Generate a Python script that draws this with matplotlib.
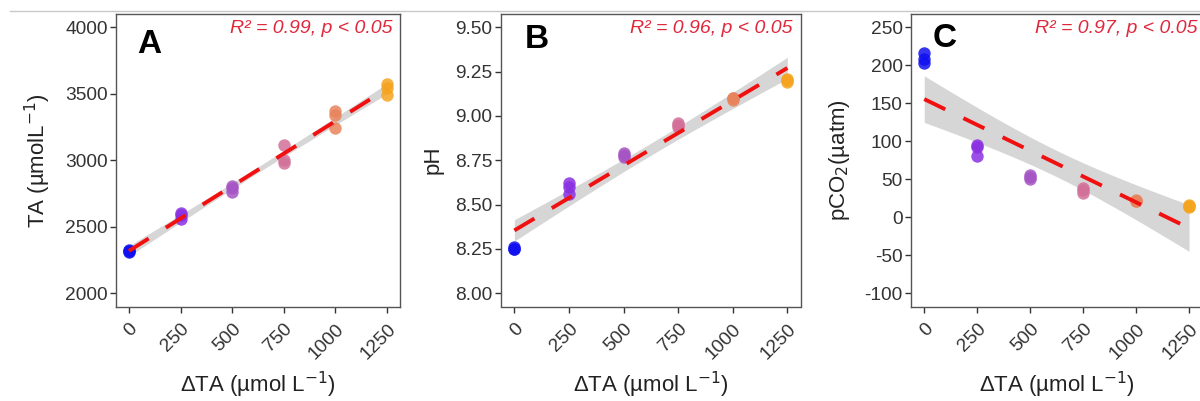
import numpy as np
import matplotlib
matplotlib.use("Agg")
import matplotlib.pyplot as plt
from matplotlib.lines import Line2D

plt.rcParams['font.family'] = ['Liberation Sans', 'DejaVu Sans']

# ---- data ----
dta_levels = [0, 250, 500, 750, 1000, 1250]
level_colors = ['#1010F0', '#8A30E2', '#A655C4', '#D2709A', '#E8845C', '#F5A420']

ta_values = [[2310, 2320, 2325], [2560, 2585, 2600], [2760, 2790, 2805],
             [2980, 3000, 3115], [3240, 3340, 3370], [3490, 3545, 3575]]
ph_values = [[8.25, 8.25, 8.26], [8.56, 8.60, 8.62], [8.77, 8.78, 8.79],
             [8.94, 8.95, 8.96], [9.09, 9.10, 9.10], [9.19, 9.20, 9.21]]
pco2_values = [[203, 208, 216], [80, 92, 95], [50, 53, 56],
               [32, 36, 39], [21, 22, 23], [14, 15, 16]]

x_ticks = [0, 250, 500, 750, 1000, 1250]
ta_ticks = [2000, 2500, 3000, 3500, 4000]
ph_ticks = [8.00, 8.25, 8.50, 8.75, 9.00, 9.25, 9.50]
pco2_ticks = [-100, -50, 0, 50, 100, 150, 200, 250]

stats_text = ["R² = 0.99, p < 0.05", "R² = 0.96, p < 0.05", "R² = 0.97, p < 0.05"]
panel_letters = ["A", "B", "C"]
ylabels = ["TA (µmolL$^{-1}$)", "pH", "pCO$_2$(µatm)"]
xlabel = "ΔTA (µmol L$^{-1}$)"
T_CRIT = 2.1199  # t(0.975, df=16)

W, H = 1200, 401
fig = plt.figure(figsize=(12, 4.01), dpi=100)

def ax_rect(left, right, top, bottom):
    return [left / W, (H - bottom) / H, (right - left) / W, (bottom - top) / H]

axes_px = [(116, 400), (500.7, 801), (911, 1202.3)]
top_px, bot_px = 14, 306.5

panels = [
    dict(vals=ta_values, ticks=ta_ticks, ylim=(1900, 4100), fmt="{:.0f}",
         ylab_x=-0.222, letter_xy=(0.075, 0.867), stat_x=0.975),
    dict(vals=ph_values, ticks=ph_ticks, ylim=(7.925, 9.575), fmt="{:.2f}",
         ylab_x=-0.19, letter_xy=(0.080, 0.884), stat_x=0.973),
    dict(vals=pco2_values, ticks=pco2_ticks, ylim=(-117.5, 267.5), fmt="{:.0f}",
         ylab_x=-0.203, letter_xy=(0.075, 0.887), stat_x=0.985),
]

edge_col = '#555555'
for i, p in enumerate(panels):
    l, r = axes_px[i]
    ax = fig.add_axes(ax_rect(l, r, top_px, bot_px))
    xs = np.repeat(dta_levels, 3).astype(float)
    ys = np.array(p['vals'], dtype=float).ravel()
    # regression + CI
    n = len(xs)
    slope, intercept = np.polyfit(xs, ys, 1)
    resid = ys - (slope * xs + intercept)
    s = np.sqrt(np.sum(resid ** 2) / (n - 2))
    xg = np.linspace(min(dta_levels), max(dta_levels), 100)
    yg = slope * xg + intercept
    se = s * np.sqrt(1 / n + (xg - xs.mean()) ** 2 / np.sum((xs - xs.mean()) ** 2))
    ax.fill_between(xg, yg - T_CRIT * se, yg + T_CRIT * se, color='#999999',
                    alpha=0.4, lw=0, zorder=2)
    # points
    for lev, col, vals in zip(dta_levels, level_colors, p['vals']):
        ax.scatter([lev] * len(vals), vals, s=80, color=col, alpha=0.85,
                   lw=0, zorder=3)
    ax.plot(xg, yg, color='#F01010', lw=2.8, dashes=(6.0, 5.2),
            dash_capstyle='butt', zorder=4)

    ax.set_xlim(-62.5, 1312.5)
    ax.set_ylim(*p['ylim'])
    ax.set_xticks(x_ticks)
    ax.set_xticklabels([str(t) for t in x_ticks], rotation=45, ha='right',
                       va='top', rotation_mode='anchor')
    ax.set_yticks(p['ticks'])
    ax.set_yticklabels([p['fmt'].format(t) for t in p['ticks']])
    ax.tick_params(axis='both', direction='out', length=4, width=1,
                   color='#333333', labelsize=13.8, labelcolor='#333333', pad=2)
    ax.tick_params(axis='x', pad=6)
    for sp in ax.spines.values():
        sp.set_color(edge_col)
        sp.set_linewidth(1.0)
    ax.set_xlabel(xlabel, fontsize=16, color='#222222', labelpad=5)
    ax.set_ylabel(ylabels[i], fontsize=16, color='#222222')
    ax.yaxis.set_label_coords(p['ylab_x'], 0.5)
    ax.text(p['letter_xy'][0], p['letter_xy'][1], panel_letters[i],
            transform=ax.transAxes, fontsize=24, fontweight='bold',
            ha='left', va='baseline', color='black', zorder=5)
    ax.text(p['stat_x'], 0.935, stats_text[i], transform=ax.transAxes,
            fontsize=14, style='italic', color='#E0283C', ha='right',
            va='baseline', zorder=5)

fig.add_artist(Line2D([10 / W, 1.0], [(H - 11) / H, (H - 11) / H],
                      color='#C8C8C8', lw=1.0))

fig.savefig("out.png", dpi=100)
